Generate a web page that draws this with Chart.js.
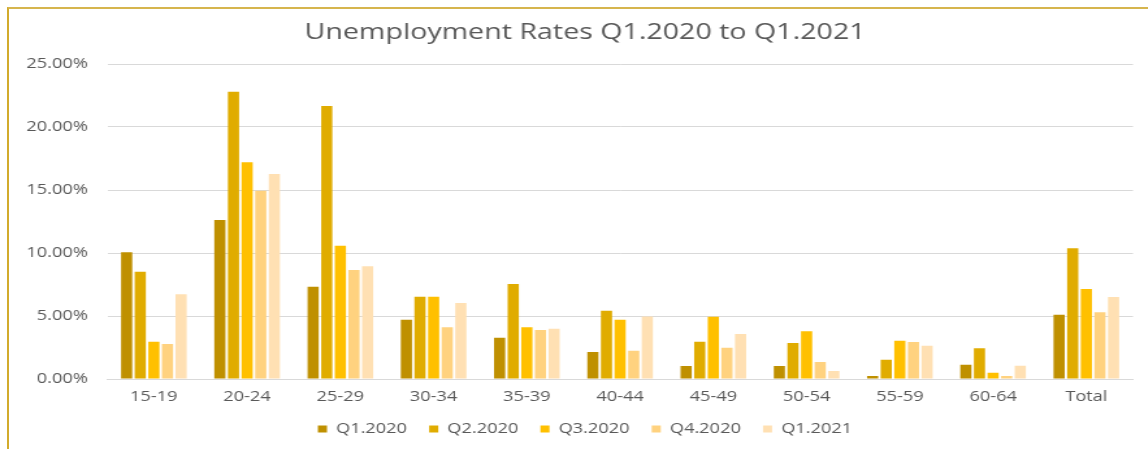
<!DOCTYPE html>
<html lang="en">
    <head>
        <meta charset="UTF-8" />
        <title>Unemployment Rates Q1.2020 to Q1.2021</title>
        <script src="https://cdn.jsdelivr.net/npm/chart.js"></script>
        <style>
            html,
            body {
                margin: 0;
                padding: 0;
                background: #ffffff;
                overflow: hidden;
            }
            .frame {
                position: absolute;
                left: 7px;
                top: 7px;
                width: 1150px;
                height: 450px;
                border-top: 2px solid #d6b54e;
                border-left: 2px solid #d2ab2c;
            }
            /* the picture is stretched sideways, so draw narrow and scale */
            #chart {
                position: absolute;
                left: 0;
                top: 0;
                transform: scaleX(1.3);
                transform-origin: 0 0;
            }
        </style>
    </head>
    <body>
        <div class="frame"></div>
        <canvas id="chart" width="900" height="449"></canvas>

        <script>
            // Age groups
            const ageGroups = [
                "15-19", "20-24", "25-29", "30-34", "35-39", "40-44",
                "45-49", "50-54", "55-59", "60-64", "Total",
            ];

            // Unemployment rate (%) per quarter
            const q1_2020 = [10.06, 12.62, 7.33, 4.71, 3.28, 2.14, 1.03, 1.03, 0.24, 1.13, 5.10];
            const q2_2020 = [8.52, 22.8, 21.67, 6.53, 7.54, 5.42, 2.96, 2.85, 1.53, 2.44, 10.37];
            const q3_2020 = [2.96, 17.2, 10.58, 6.53, 4.10, 4.71, 4.94, 3.78, 3.04, 0.50, 7.14];
            const q4_2020 = [2.78, 14.94, 8.65, 4.10, 3.89, 2.25, 2.48, 1.35, 2.94, 0.24, 5.29];
            const q1_2021 = [6.72, 16.27, 8.94, 6.03, 3.99, 4.97, 3.57, 0.63, 2.64, 1.06, 6.51];

            const seriesNames = ["Q1.2020", "Q2.2020", "Q3.2020", "Q4.2020", "Q1.2021"];
            const seriesData = [q1_2020, q2_2020, q3_2020, q4_2020, q1_2021];
            const seriesColors = ["#bf9000", "#e0ac00", "#ffc000", "#ffd27f", "#ffe0b3"];

            const textColor = "#595959";
            const fontFamily = "'Open Sans', sans-serif";

            // Legend sits lower than Chart.js would put it: pin its height
            const legendHeight = {
                id: "legendHeight",
                beforeLayout(chart) {
                    const lg = chart.legend;
                    if (lg && !lg._pinned) {
                        const fit = lg.fit;
                        lg.fit = function () {
                            fit.call(this);
                            this.height = 44;
                        };
                        lg._pinned = true;
                    }
                },
            };

            new Chart(document.getElementById("chart"), {
                type: "bar",
                data: {
                    labels: ageGroups,
                    datasets: seriesNames.map((name, i) => ({
                        label: name,
                        data: seriesData[i],
                        backgroundColor: seriesColors[i],
                        borderWidth: 0,
                        categoryPercentage: 0.73,
                        barPercentage: 0.82,
                    })),
                },
                options: {
                    responsive: false,
                    animation: false,
                    layout: {
                        padding: { left: 0, right: 0, top: 0, bottom: 0 },
                    },
                    plugins: {
                        title: {
                            display: true,
                            text: "Unemployment Rates Q1.2020 to Q1.2021",
                            color: textColor,
                            font: { family: fontFamily, size: 22, weight: "normal" },
                            padding: { top: 20, bottom: 17.6 },
                        },
                        legend: {
                            position: "bottom",
                            labels: {
                                color: textColor,
                                font: { family: fontFamily, size: 14 },
                                boxWidth: 7,
                                boxHeight: 7,
                                padding: 17,
                            },
                        },
                        tooltip: { enabled: false },
                    },
                    scales: {
                        x: {
                            grid: { display: false, drawTicks: false },
                            border: { color: "#d9d9d9", width: 1 },
                            ticks: {
                                color: textColor,
                                font: { family: fontFamily, size: 14 },
                                padding: 10,
                                maxRotation: 0,
                            },
                            afterFit(scale) {
                                scale.height = 26;
                            },
                        },
                        y: {
                            min: 0,
                            max: 25,
                            grid: { color: "#d9d9d9", lineWidth: 1, drawTicks: false },
                            border: { display: false },
                            ticks: {
                                stepSize: 5,
                                color: textColor,
                                font: { family: fontFamily, size: 14 },
                                padding: 15,
                                callback: (v) => v.toFixed(2) + "%",
                            },
                            afterFit(scale) {
                                scale.width = 82.5;
                            },
                        },
                        // empty right-hand axis: keeps the plot's right edge and
                        // centres title and legend where the original has them
                        spacer: {
                            type: "linear",
                            position: "right",
                            grid: { display: false },
                            border: { display: false },
                            ticks: { display: false },
                            afterFit(scale) {
                                scale.width = 28.5;
                            },
                        },
                    },
                },
                plugins: [legendHeight],
            });
        </script>
    </body>
</html>
